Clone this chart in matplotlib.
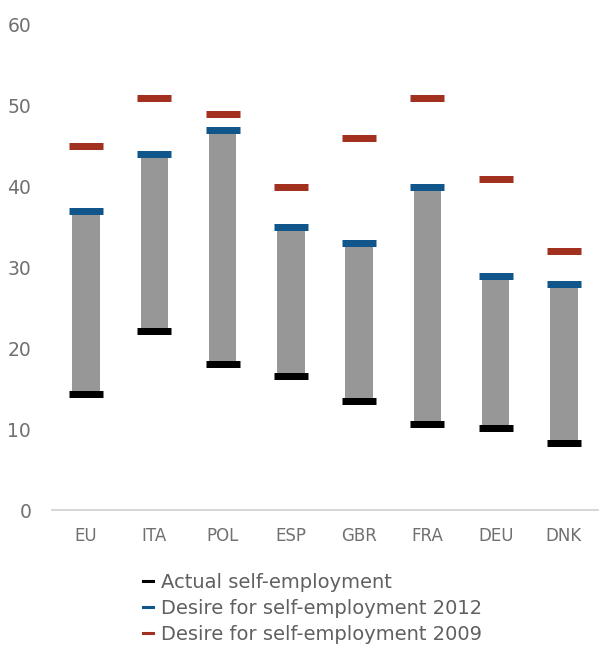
import matplotlib
matplotlib.use("Agg")
import matplotlib.pyplot as plt
import numpy as np
from matplotlib.lines import Line2D

categories = ["EU", "ITA", "POL", "ESP", "GBR", "FRA", "DEU", "DNK"]
actual = [14.4, 22.2, 18.1, 16.6, 13.5, 10.6, 10.1, 8.3]
desire_2012 = [37, 44, 47, 35, 33, 40, 29, 28]
desire_2009 = [45, 51, 49, 40, 46, 51, 41, 32]
yticks = [0, 10, 20, 30, 40, 50, 60]

plt.rcParams['font.family'] = ['DejaVu Sans']
fig = plt.figure(figsize=(5.99, 6.52), dpi=100)
ax = fig.add_axes([52/599, 1-510/652, 546/599, 485/652])

x = np.arange(len(categories))
a = np.array(actual); d12 = np.array(desire_2012); d09 = np.array(desire_2009)

ax.bar(x, d12 - a, bottom=a, width=0.40, color="#979797", zorder=1)
ms = 0.51 * 546/8 * 72/100
mew = 7 * 72/100
ax.plot(x, a, ls='none', marker='_', markersize=ms, mew=mew, color="#000000", zorder=3)
ax.plot(x, d12, ls='none', marker='_', markersize=ms, mew=mew, color="#10568A", zorder=3)
ax.plot(x, d09, ls='none', marker='_', markersize=ms, mew=mew, color="#A1301E", zorder=3)

ax.set_xlim(-0.5, 7.5)
ax.set_ylim(0, 60)
ax.set_yticks(yticks)
ax.set_xticks(x)
ax.set_xticklabels(categories)
for s in ["top", "right", "left"]:
    ax.spines[s].set_visible(False)
ax.spines["bottom"].set_color("#d0d0d0")
ax.spines["bottom"].set_linewidth(1.2)
ax.tick_params(axis='y', length=0, pad=15, labelsize=13.5, labelcolor="#707070")
ax.tick_params(axis='x', length=0, pad=12, labelsize=12, labelcolor="#707070")

handles = [Line2D([0], [0], color=c, lw=2.2) for c in ["#000000", "#10568A", "#A1301E"]]
labels = ["Actual self-employment", "Desire for self-employment 2012", "Desire for self-employment 2009"]
fig.legend(handles, labels, loc="upper left", bbox_to_anchor=(143/599, 1-573/652), frameon=False,
           handlelength=0.5, handletextpad=0.45, labelspacing=0.35, fontsize=14, labelcolor="#606060",
           borderaxespad=0, borderpad=0)

fig.savefig("out.png", dpi=100)
